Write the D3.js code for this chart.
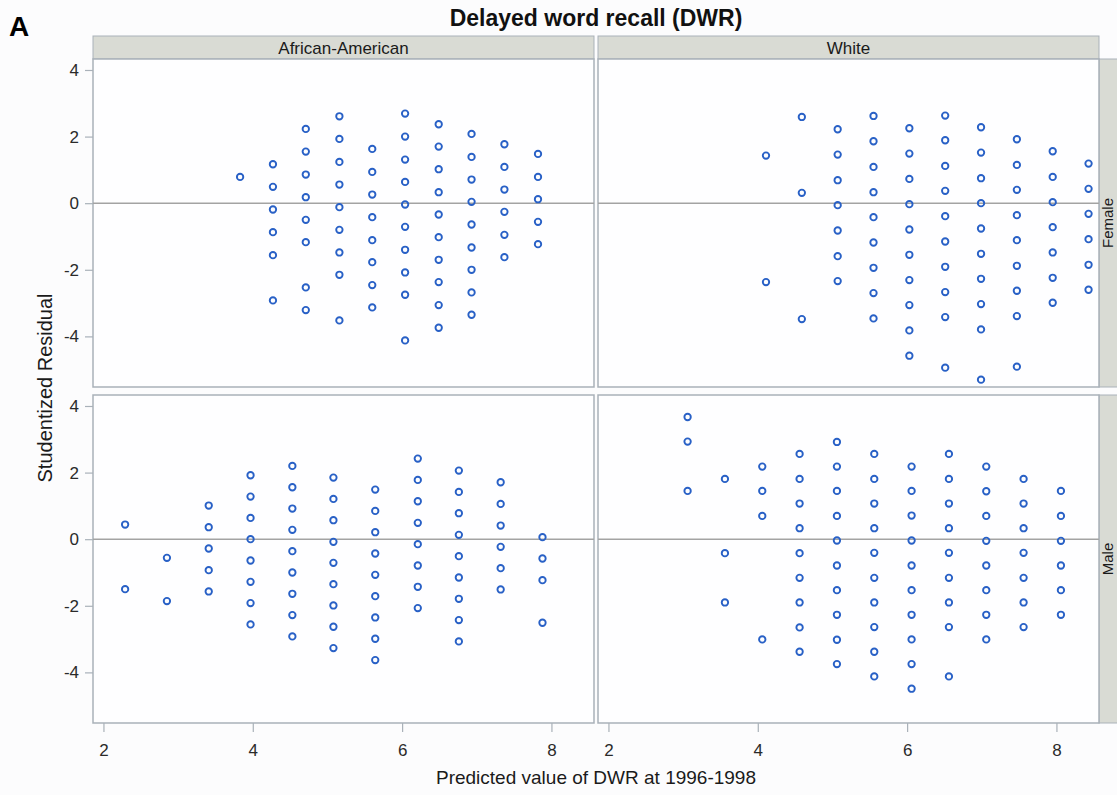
<!DOCTYPE html>
<html lang="en">
<head>
  <meta charset="UTF-8">
  <title>Delayed word recall (DWR)</title>
  <script src="https://d3js.org/d3.v7.min.js"></script>
  <style>
    body { margin: 0; background: #fcfcfd; }
    svg { font-family: "Liberation Sans", Arial, sans-serif; }
    .frame { fill: #fefeff; stroke: #a9b1b9; stroke-width: 1.5px; }
    .strip { fill: #d9dbd4; stroke: #a9b1b9; stroke-width: 1px; }
    .zero { stroke: #a3a3a3; stroke-width: 1.5px; }
    .pt { fill: none; stroke: #2860c6; stroke-width: 1.9px; }
    .axis path { display: none; }
    .axis line { stroke: #a9b1b9; stroke-width: 1.2px; }
    .axis text { font-size: 17px; fill: #2a2a2a; }
  </style>
</head>
<body>
<div id="chart"></div>
<script>
  // facets
  const races = ["African-American", "White"];
  const sexes = ["Female", "Male"];
  const xTicks = [2, 4, 6, 8];
  const yTicks = [-4, -2, 0, 2, 4];

  // predicted value columns and studentized residuals per column
  const aaFemaleX = [3.83, 4.27, 4.71, 5.16, 5.60, 6.04, 6.49, 6.93, 7.37, 7.82];
  const aaFemaleY = [
    [0.79],
    [1.17, 0.49, -0.19, -0.87, -1.56, -2.92],
    [2.23, 1.55, 0.86, 0.18, -0.50, -1.17, -2.53, -3.21],
    [2.61, 1.93, 1.24, 0.56, -0.12, -0.80, -1.48, -2.15, -3.52],
    [1.63, 0.94, 0.26, -0.42, -1.11, -1.77, -2.46, -3.13],
    [2.69, 2.00, 1.31, 0.64, -0.04, -0.71, -1.40, -2.08, -2.75, -4.12],
    [2.37, 1.70, 1.02, 0.33, -0.34, -1.02, -1.70, -2.37, -3.06, -3.74],
    [2.08, 1.39, 0.71, 0.04, -0.64, -1.33, -2.00, -2.68, -3.35],
    [1.77, 1.09, 0.41, -0.26, -0.95, -1.62],
    [1.48, 0.79, 0.12, -0.56, -1.23]
  ];

  const whFemaleX = [4.11, 4.59, 5.07, 5.55, 6.03, 6.51, 6.99, 7.47, 7.95, 8.43];
  const whFemaleY = [
    [1.43, -2.37],
    [2.59, 0.31, -3.48],
    [2.22, 1.46, 0.69, -0.06, -0.82, -1.59, -2.34],
    [2.62, 1.86, 1.09, 0.33, -0.42, -1.18, -1.94, -2.70, -3.46],
    [2.25, 1.49, 0.73, -0.03, -0.79, -1.55, -2.31, -3.06, -3.82, -4.58],
    [2.63, 1.89, 1.12, 0.37, -0.39, -1.15, -1.91, -2.67, -3.42, -4.94],
    [2.28, 1.52, 0.75, 0.00, -0.76, -1.52, -2.27, -3.03, -3.79, -5.30],
    [1.92, 1.15, 0.40, -0.36, -1.11, -1.88, -2.63, -3.39, -4.91],
    [1.56, 0.79, 0.03, -0.72, -1.48, -2.24, -2.99],
    [1.19, 0.43, -0.32, -1.08, -1.85, -2.60]
  ];

  const aaMaleX = [2.29, 2.85, 3.41, 3.97, 4.53, 5.08, 5.64, 6.21, 6.76, 7.32, 7.88];
  const aaMaleY = [
    [0.44, -1.50],
    [-0.56, -1.86],
    [1.01, 0.36, -0.28, -0.93, -1.57],
    [1.92, 1.28, 0.64, 0.00, -0.64, -1.28, -1.92, -2.56],
    [2.20, 1.56, 0.92, 0.28, -0.36, -1.00, -1.64, -2.28, -2.92],
    [1.85, 1.21, 0.57, -0.08, -0.71, -1.35, -1.99, -2.63, -3.27],
    [1.49, 0.85, 0.21, -0.43, -1.07, -1.71, -2.35, -2.99, -3.63],
    [2.42, 1.78, 1.14, 0.49, -0.15, -0.79, -1.43, -2.07],
    [2.06, 1.42, 0.78, 0.13, -0.51, -1.15, -1.79, -2.43, -3.07],
    [1.71, 1.06, 0.41, -0.23, -0.87, -1.51],
    [0.06, -0.58, -1.23, -2.51]
  ];

  const whMaleX = [3.06, 3.56, 4.06, 4.56, 5.06, 5.56, 6.06, 6.56, 7.06, 7.56, 8.06];
  const whMaleY = [
    [3.67, 2.93, 1.45],
    [1.81, -0.42, -1.90],
    [2.18, 1.45, 0.70, -3.01],
    [2.56, 1.81, 1.07, 0.33, -0.42, -1.16, -1.90, -2.65, -3.38],
    [2.92, 2.18, 1.45, 0.70, -0.04, -0.79, -1.53, -2.27, -3.02, -3.75],
    [2.56, 1.81, 1.07, 0.33, -0.41, -1.16, -1.90, -2.64, -3.38, -4.12],
    [2.18, 1.45, 0.71, -0.04, -0.79, -1.53, -2.27, -3.01, -3.75, -4.49],
    [2.56, 1.81, 1.07, 0.33, -0.41, -1.16, -1.90, -2.64, -4.12],
    [2.18, 1.44, 0.70, -0.05, -0.79, -1.53, -2.27, -3.01],
    [1.81, 1.07, 0.33, -0.41, -1.16, -1.90, -2.64],
    [1.45, 0.70, -0.05, -0.79, -1.53, -2.27]
  ];

  const panels = [
    { race: 0, sex: 0, xs: aaFemaleX, ys: aaFemaleY },
    { race: 1, sex: 0, xs: whFemaleX, ys: whFemaleY },
    { race: 0, sex: 1, xs: aaMaleX, ys: aaMaleY },
    { race: 1, sex: 1, xs: whMaleX, ys: whMaleY }
  ];

  const width = 1117, height = 795;
  const colLeft = [93, 598], colW = 501;
  const rowTop = [59, 395], rowH = 328;

  const svg = d3.select("#chart").append("svg")
    .attr("width", width)
    .attr("height", height);

  // title and panel letter
  svg.append("text")
    .attr("x", 596).attr("y", 26)
    .attr("text-anchor", "middle")
    .attr("font-size", "23px").attr("font-weight", "bold")
    .attr("fill", "#111")
    .text("Delayed word recall (DWR)");
  svg.append("text")
    .attr("x", 9).attr("y", 36)
    .attr("font-size", "28px").attr("font-weight", "bold")
    .attr("fill", "#000")
    .text("A");

  const x = d3.scaleLinear().domain([1.86, 8.57]).range([0, colW]);
  const y = d3.scaleLinear().domain([-5.52, 4.33]).range([rowH, 0]);

  // column strips
  races.forEach((r, i) => {
    svg.append("rect").attr("class", "strip")
      .attr("x", colLeft[i]).attr("y", 36)
      .attr("width", colW).attr("height", rowTop[0] - 36);
    svg.append("text")
      .attr("x", colLeft[i] + colW / 2).attr("y", 54)
      .attr("text-anchor", "middle")
      .attr("font-size", "17px").attr("fill", "#1a1a1a")
      .text(r);
  });

  // row strips on the right
  sexes.forEach((s, j) => {
    svg.append("rect").attr("class", "strip")
      .attr("x", colLeft[1] + colW).attr("y", rowTop[j])
      .attr("width", 30).attr("height", rowH);
    const cy = rowTop[j] + rowH / 2;
    svg.append("text")
      .attr("transform", `translate(1113,${cy}) rotate(-90)`)
      .attr("text-anchor", "middle")
      .attr("font-size", "15px").attr("fill", "#1a1a1a")
      .text(s);
  });

  panels.forEach(p => {
    const g = svg.append("g")
      .attr("transform", `translate(${colLeft[p.race]},${rowTop[p.sex]})`);

    g.append("rect").attr("class", "frame")
      .attr("width", colW).attr("height", rowH);

    g.append("line").attr("class", "zero")
      .attr("x1", 0).attr("x2", colW)
      .attr("y1", y(0)).attr("y2", y(0));

    const pts = [];
    p.xs.forEach((xv, k) => p.ys[k].forEach(yv => pts.push([xv, yv])));

    g.selectAll("circle.pt").data(pts).enter().append("circle")
      .attr("class", "pt")
      .attr("cx", d => x(d[0]))
      .attr("cy", d => y(d[1]))
      .attr("r", 3.2);

    if (p.race === 0) {
      g.append("g").attr("class", "axis")
        .call(d3.axisLeft(y).tickValues(yTicks).tickSize(8).tickPadding(6)
          .tickFormat(d => String(d)));
    }
    if (p.sex === 1) {
      g.append("g").attr("class", "axis")
        .attr("transform", `translate(0,${rowH})`)
        .call(d3.axisBottom(x).tickValues(xTicks).tickSize(9).tickPadding(12)
          .tickFormat(d => String(d)));
    }
  });

  // axis titles
  svg.append("text")
    .attr("transform", "translate(52,388) rotate(-90)")
    .attr("text-anchor", "middle")
    .attr("font-size", "20px").attr("fill", "#1a1a1a")
    .text("Studentized Residual");
  svg.append("text")
    .attr("x", 596).attr("y", 784)
    .attr("text-anchor", "middle")
    .attr("font-size", "19px").attr("fill", "#1a1a1a")
    .text("Predicted value of DWR at 1996-1998");
</script>
</body>
</html>
